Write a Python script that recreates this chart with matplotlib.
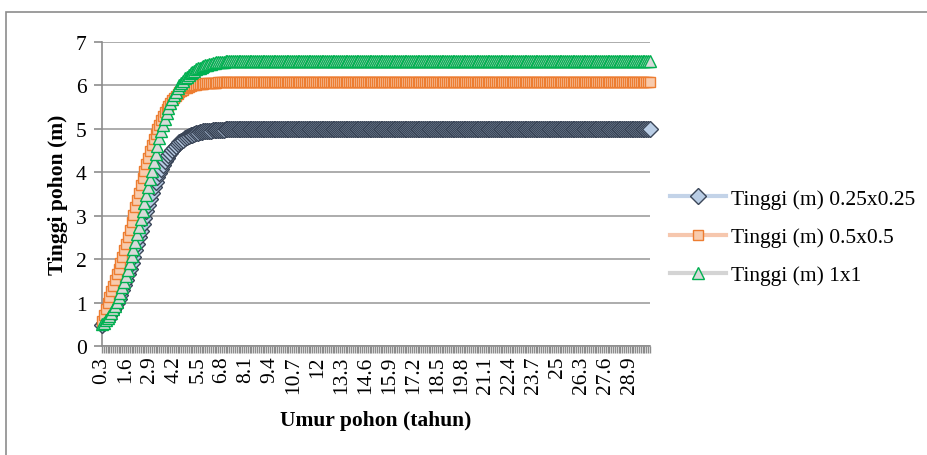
import numpy as np
import matplotlib
matplotlib.use('Agg')
import matplotlib.pyplot as plt
from matplotlib.patches import Rectangle

plt.rcParams['font.family'] = ['Liberation Serif', 'DejaVu Serif']

# tree age categories (0.3 .. 30.0 years, step 0.1)
umur = np.round(np.arange(3, 301) / 10, 1)

tinggi_025_rise = [0.48, 0.52, 0.57, 0.62, 0.68, 0.75, 0.82, 0.90, 0.99, 1.08,
                   1.18, 1.29, 1.40, 1.52, 1.65, 1.78, 1.92, 2.06, 2.20, 2.35,
                   2.50, 2.65, 2.80, 2.95, 3.10, 3.25, 3.39, 3.53, 3.66, 3.78,
                   3.89, 3.99, 4.08, 4.17, 4.25, 4.32, 4.39, 4.45, 4.51, 4.56,
                   4.61, 4.65, 4.69, 4.72, 4.75, 4.78, 4.81, 4.83, 4.85, 4.87,
                   4.89, 4.90, 4.91, 4.92, 4.93, 4.94, 4.95, 4.95, 4.96, 4.96,
                   4.97, 4.97, 4.97, 4.98, 4.98, 4.98, 4.98, 4.99, 4.99, 4.99]
tinggi_025_plateau = 4.99

tinggi_05_rise = [0.58, 0.72, 0.86, 1.00, 1.13, 1.26, 1.39, 1.52, 1.65, 1.78,
                  1.92, 2.06, 2.21, 2.36, 2.52, 2.68, 2.85, 3.02, 3.19, 3.36,
                  3.53, 3.70, 3.87, 4.03, 4.19, 4.34, 4.49, 4.63, 4.76, 4.88,
                  4.99, 5.10, 5.20, 5.29, 5.38, 5.46, 5.53, 5.60, 5.66, 5.71,
                  5.76, 5.80, 5.84, 5.87, 5.90, 5.93, 5.95, 5.97, 5.99, 6.00,
                  6.01, 6.02, 6.03, 6.03, 6.04, 6.04, 6.05, 6.05, 6.05, 6.06,
                  6.06, 6.06, 6.06, 6.07, 6.07, 6.07, 6.07, 6.07, 6.07, 6.07]
tinggi_05_plateau = 6.07

tinggi_1_rise = [0.50, 0.54, 0.59, 0.64, 0.70, 0.77, 0.85, 0.93, 1.02, 1.12,
                 1.23, 1.35, 1.48, 1.62, 1.76, 1.91, 2.07, 2.23, 2.40, 2.57,
                 2.75, 2.93, 3.11, 3.30, 3.48, 3.67, 3.85, 4.04, 4.23, 4.42,
                 4.60, 4.78, 4.94, 5.09, 5.23, 5.36, 5.48, 5.59, 5.69, 5.78,
                 5.86, 5.93, 6.00, 6.06, 6.11, 6.16, 6.20, 6.24, 6.28, 6.31,
                 6.34, 6.37, 6.39, 6.41, 6.43, 6.45, 6.46, 6.48, 6.49, 6.50,
                 6.51, 6.52, 6.53, 6.53, 6.54, 6.55, 6.55, 6.56, 6.56, 6.57]
tinggi_1_plateau = 6.57

n = len(umur)
tinggi_025 = tinggi_025_rise + [tinggi_025_plateau] * (n - len(tinggi_025_rise))
tinggi_05 = tinggi_05_rise + [tinggi_05_plateau] * (n - len(tinggi_05_rise))
tinggi_1 = tinggi_1_rise + [tinggi_1_plateau] * (n - len(tinggi_1_rise))

labels = ['Tinggi (m) 0.25x0.25', 'Tinggi (m) 0.5x0.5', 'Tinggi (m) 1x1']

fig = plt.figure(figsize=(9.28, 4.56), dpi=100)
ax = fig.add_axes([102 / 928, 1 - 347 / 456, (650 - 102) / 928, (347 - 43) / 456])

# chart area border
fig.patches.append(Rectangle((6 / 928, -0.1), 1.2, 1 - 13 / 456 + 0.1,
                             transform=fig.transFigure, fill=False,
                             edgecolor='#8c8c8c', linewidth=1.2, zorder=0))

x = np.arange(n)
ax.plot(x, tinggi_025, color='#c3d3e8', linewidth=3, marker='D', markersize=8,
        markerfacecolor='#b9cde5', markeredgecolor='#3b4658', markeredgewidth=1,
        clip_on=False, label=labels[0], zorder=3)
ax.plot(x, tinggi_05, color='#f6c7ae', linewidth=3, marker='s', markersize=7.5,
        markerfacecolor='#f8cbad', markeredgecolor='#ed7d31', markeredgewidth=1,
        clip_on=False, label=labels[1], zorder=4)
ax.plot(x, tinggi_1, color='#d4d4d4', linewidth=3, marker='^', markersize=8.5,
        markerfacecolor='#d9d9d9', markeredgecolor='#00b050', markeredgewidth=1,
        clip_on=False, label=labels[2], zorder=5)

ax.set_xlim(0, n - 1)
ax.set_ylim(0, 7)
ax.set_yticks(range(0, 8))
ax.yaxis.grid(True, color='#a6a6a6', linewidth=1.3)
ax.set_axisbelow(True)

major = x[::13]
ax.set_xticks(major)
ax.set_xticklabels(['%g' % umur[i] for i in major], rotation=90)
ax.set_xticks(x, minor=True)

for s in ['top', 'right']:
    ax.spines[s].set_visible(False)
for s in ['left', 'bottom']:
    ax.spines[s].set_color('#8c8c8c')
    ax.spines[s].set_linewidth(1.2)

ax.tick_params(axis='y', length=6, color='#8c8c8c', width=1.2, labelsize=15.5, pad=5)
ax.tick_params(axis='x', which='both', length=5, color='#8c8c8c', width=1,
               labelsize=15.5, pad=2, direction='out')

ax.set_ylabel('Tinggi pohon (m)', fontsize=15.5, fontweight='bold', labelpad=6)
ax.set_xlabel('Umur pohon (tahun)', fontsize=15.5, fontweight='bold', labelpad=12)

ax.legend(loc='center left', bbox_to_anchor=(670 / 928, 1 - 238 / 456),
          bbox_transform=fig.transFigure, frameon=False, fontsize=15.5,
          handlelength=2.6, handletextpad=0.25, labelspacing=0.85,
          borderpad=0, borderaxespad=0)

fig.savefig('out.png', dpi=100)
